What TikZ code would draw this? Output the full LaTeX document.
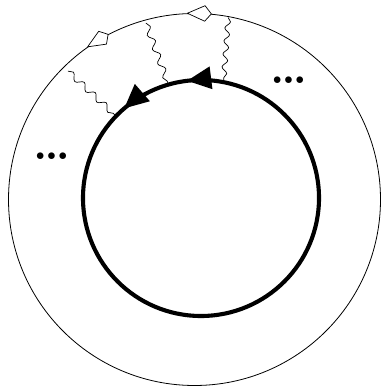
\documentclass[tikz,border=0pt]{standalone}
\usetikzlibrary{decorations.pathmorphing,decorations.markings}
\begin{document}
\begin{tikzpicture}[x=1pt,y=1pt,
  thinring/.style={circle, draw, line width=0.8pt, inner sep=0pt, outer sep=0pt},
  loopring/.style={circle, inner sep=0pt, outer sep=0pt},
  loopline/.style={line width=4.1pt},
  wavy/.style={line width=0.7pt, decorate, decoration={snake, amplitude=3pt, segment length=15pt}},
  wavyB/.style={line width=0.7pt, decorate, decoration={snake, amplitude=2.6pt, segment length=13pt}},
  kite/.style={draw, fill=white, line width=0.7pt, line join=round},
  dotslabel/.style={inner sep=0pt, font=\fontsize{46}{46}\selectfont\bfseries}
]
\useasboundingbox (-194.5,-187.5) rectangle (187.5,199.5);
% outer circle
\node[thinring, minimum size=372pt] (outer) at (0,0) {};
% inner loop
\node[loopring, minimum size=236pt] (inner) at (6.5,1.5) {};
\draw[loopline, postaction={decorate}, decoration={markings,
    mark=at position 0.27 with {\fill (-1,0) -- (-25,11.5) -- (-25,-11.5) -- cycle;},
    mark=at position 0.364 with {\fill (-1,0) -- (-25,11.5) -- (-25,-11.5) -- cycle;}}]
  (inner.center) circle[radius=118pt];
% wavy lines
\coordinate (w1) at (134.6:180.3);
\coordinate (w2) at (105.4:183);
\coordinate (w3) at (79.5:185);
\draw[wavy] (w1) -- (inner.136.7);
\draw[wavy] (w2) -- (inner.106.8);
\draw[wavyB] (w3) -- (inner.79.3);
% kites on outer circle
\draw[kite, shift={(121.3:186)}, rotate=31.3] (-12,0) -- (5.5,7.5) -- (12,0) -- (5.5,-7.5) -- cycle;
\draw[kite, shift={(88.5:186)}, rotate=-1.5] (-12,0) -- (5.5,8) -- (12,0) -- (5.5,-7.5) -- cycle;
% dots
\node[dotslabel] (dotsL) at (-142.2,43.8) {\ldots};
\node[dotslabel] (dotsR) at (94.8,119.5) {\ldots};
\end{tikzpicture}
\end{document}
